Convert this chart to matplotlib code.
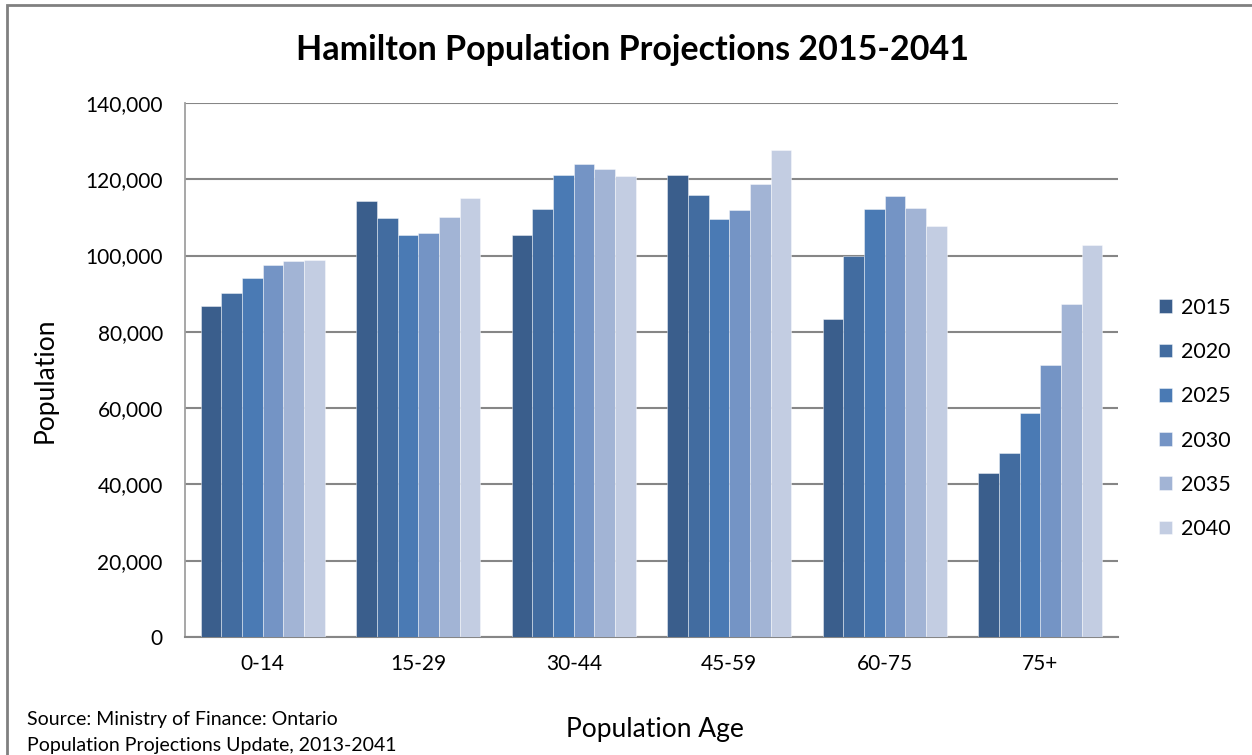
import matplotlib
matplotlib.use("Agg")
import matplotlib.pyplot as plt
import matplotlib.patches as mpatches
import numpy as np
from matplotlib.ticker import FuncFormatter, MultipleLocator

plt.rcParams['font.family'] = ['Lato', 'DejaVu Sans']

categories = ["0-14", "15-29", "30-44", "45-59", "60-75", "75+"]
years = ["2015", "2020", "2025", "2030", "2035", "2040"]
v2015 = [86800, 114200, 105300, 121200, 83400, 43000]
v2020 = [90100, 109900, 112300, 116000, 99800, 48200]
v2025 = [94000, 105500, 121100, 109600, 112200, 58600]
v2030 = [97400, 105800, 124000, 112000, 115600, 71400]
v2035 = [98700, 110200, 122800, 118800, 112600, 87200]
v2040 = [98800, 115000, 120800, 127600, 107800, 102800]
series = [v2015, v2020, v2025, v2030, v2035, v2040]
colors = ["#3A5E8C", "#426CA0", "#4A7AB4", "#7494C5", "#A2B4D5", "#C3CDE2"]

W, H = 1252, 755
fig = plt.figure(figsize=(W/100, H/100), dpi=100)
ax = fig.add_axes([185/W, (H-637)/H, 933/W, 534/H])

x = np.arange(len(categories))
bw = 0.8/6
for i, (vals, c, y) in enumerate(zip(series, colors, years)):
    ax.bar(x - 0.4 + bw*(i+0.5), vals, width=bw, color=c, label=y,
           edgecolor=(1, 1, 1, 0.5), linewidth=0.6, zorder=3)

ax.set_xlim(-0.5, len(categories)-0.5)
ax.set_ylim(0, 140000)
ax.yaxis.set_major_locator(MultipleLocator(20000))
ax.yaxis.set_major_formatter(FuncFormatter(lambda v, p: f"{int(v):,}"))
ax.grid(axis='y', color='#868686', linewidth=1.5, zorder=1)
ax.set_axisbelow(True)
for s in ['top', 'right']:
    ax.spines[s].set_visible(False)
ax.spines['left'].set_color('#A0A0A0')
ax.spines['left'].set_linewidth(1.3)
ax.spines['bottom'].set_color('#868686')
ax.spines['bottom'].set_linewidth(1.5)
ax.set_xticks(x)
ax.set_xticklabels(categories)
ax.tick_params(axis='both', length=0, labelsize=15, colors='black')
ax.tick_params(axis='y', pad=16)
ax.tick_params(axis='x', pad=12)

fig.text(632/W, 1-50/H, "Hamilton Population Projections 2015-2041",
         ha='center', va='center', fontsize=24.5, fontweight='bold')
fig.text(45/W, 1-380/H, "Population", rotation=90, ha='center', va='center', fontsize=19)
fig.text(655/W, 1-729/H, "Population Age", ha='center', va='center', fontsize=19)
fig.text(27/W, 1-719/H, "Source: Ministry of Finance: Ontario", ha='left', va='center', fontsize=14)
fig.text(27/W, 1-745/H, "Population Projections Update, 2013-2041", ha='left', va='center', fontsize=14)

leg = fig.legend(loc='upper left', bbox_to_anchor=(1150/W, 1-289/H), frameon=False,
                 fontsize=15.5, handlelength=0.6, handleheight=0.6, handletextpad=0.45,
                 labelspacing=1.13, borderaxespad=0)

frame = mpatches.Rectangle((7/W, -0.05), 1.1, 1-5/H+0.05, transform=fig.transFigure,
                           fill=False, edgecolor='#808080', linewidth=2, clip_on=False)
fig.patches.append(frame)

fig.savefig("out.png", dpi=100)
